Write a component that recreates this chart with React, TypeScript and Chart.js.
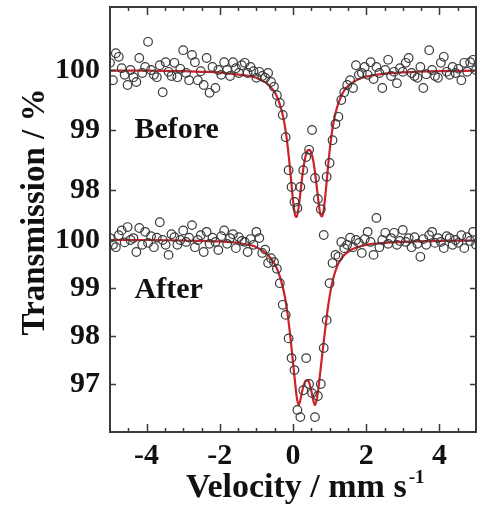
import React, { useEffect, useRef } from 'react';
import { Chart, registerables } from 'chart.js';

Chart.register(...registerables);

// Velocity channels (mm/s)
const velocity = [
  -5.00, -4.92, -4.84, -4.76, -4.68, -4.60, -4.52, -4.44, -4.36, -4.28,
  -4.20, -4.12, -4.04, -3.96, -3.88, -3.80, -3.72, -3.64, -3.56, -3.48,
  -3.40, -3.32, -3.24, -3.16, -3.08, -3.00, -2.92, -2.84, -2.76, -2.68,
  -2.60, -2.52, -2.44, -2.36, -2.28, -2.20, -2.12, -2.04, -1.96, -1.88,
  -1.80, -1.72, -1.64, -1.56, -1.48, -1.40, -1.32, -1.24, -1.16, -1.08,
  -1.00, -0.92, -0.84, -0.76, -0.68, -0.60, -0.52, -0.44, -0.36, -0.28,
  -0.20, -0.12, -0.04, 0.04, 0.12, 0.20, 0.28, 0.36, 0.44, 0.52,
  0.60, 0.68, 0.76, 0.84, 0.92, 1.00, 1.08, 1.16, 1.24, 1.32,
  1.40, 1.48, 1.56, 1.64, 1.72, 1.80, 1.88, 1.96, 2.04, 2.12,
  2.20, 2.28, 2.36, 2.44, 2.52, 2.60, 2.68, 2.76, 2.84, 2.92,
  3.00, 3.08, 3.16, 3.24, 3.32, 3.40, 3.48, 3.56, 3.64, 3.72,
  3.80, 3.88, 3.96, 4.04, 4.12, 4.20, 4.28, 4.36, 4.44, 4.52,
  4.60, 4.68, 4.76, 4.84, 4.92, 5.00,
];

// Transmission (%) - "Before"
const transBefore = [
  100.12, 99.83, 100.28, 100.22, 100.03, 99.92, 99.75, 100.00, 99.88, 99.80,
  100.20, 99.95, 100.05, 100.47, 100.00, 99.92, 99.88, 100.08, 99.63, 100.13,
  99.97, 99.90, 100.12, 99.88, 100.02, 100.33, 99.95, 99.83, 100.25, 100.13,
  99.83, 99.98, 99.75, 100.20, 99.62, 100.05, 99.70, 100.00, 99.92, 100.13,
  100.00, 99.90, 100.13, 100.03, 99.95, 100.08, 100.12, 99.95, 100.05, 99.98,
  99.87, 99.97, 99.90, 99.87, 99.95, 99.80, 99.72, 99.58, 99.45, 99.25,
  98.88, 98.33, 98.05, 97.80, 97.70, 98.05, 98.33, 98.55, 98.67, 99.00,
  98.20, 97.85, 97.68, 97.25, 98.22, 98.45, 98.83, 99.10, 99.22, 99.50,
  99.63, 99.75, 99.83, 99.70, 100.08, 99.92, 99.95, 100.05, 99.92, 100.13,
  99.85, 100.05, 99.95, 99.70, 100.00, 100.17, 99.90, 99.97, 99.78, 100.03,
  99.97, 100.12, 100.20, 99.95, 99.90, 99.87, 100.05, 99.70, 99.93, 100.33,
  100.00, 99.90, 99.87, 100.12, 100.22, 99.97, 99.92, 100.05, 99.95, 100.02,
  99.83, 100.12, 99.97, 100.13, 100.17, 100.00,
];

// Transmission (%) - "After"
const transAfter = [
  100.04, 99.90, 99.85, 100.10, 100.20, 99.95, 100.27, 100.00, 100.04, 99.75,
  100.25, 99.90, 100.17, 99.94, 100.08, 99.85, 100.05, 100.37, 100.00, 99.90,
  99.69, 100.12, 100.06, 99.90, 100.00, 100.20, 99.96, 100.05, 100.31, 99.85,
  100.00, 100.10, 99.75, 100.17, 99.92, 100.05, 99.96, 99.79, 100.08, 100.20,
  99.92, 100.04, 100.12, 99.83, 100.06, 99.98, 99.96, 99.75, 100.02, 99.90,
  100.17, 100.04, 99.73, 99.80, 99.52, 99.62, 99.54, 99.40, 99.10, 98.65,
  98.44, 97.95, 97.54, 97.29, 96.46, 96.31, 96.87, 97.54, 97.00, 96.81,
  96.31, 96.75, 97.00, 97.75, 98.33, 99.10, 99.52, 99.69, 99.65, 99.96,
  99.83, 99.90, 100.05, 99.85, 100.00, 99.94, 99.73, 100.02, 100.17, 99.96,
  99.69, 100.46, 99.85, 100.00, 100.15, 99.92, 100.04, 100.15, 99.90, 99.98,
  100.21, 99.96, 100.04, 99.85, 100.06, 99.92, 99.65, 100.02, 99.90, 100.10,
  100.17, 99.94, 100.04, 99.96, 99.83, 100.08, 100.04, 99.90, 100.00, 99.94,
  100.10, 99.83, 100.06, 99.98, 100.17, 99.90,
];

// Fitted curves
const fitVelocity = [
  -5, -4, -3, -2.5, -2, -1.6, -1.3, -1.1, -1.0, -0.9,
  -0.8, -0.7, -0.6, -0.5, -0.4, -0.3, -0.25, -0.2, -0.15, -0.1,
  -0.05, 0, 0.05, 0.1, 0.15, 0.2, 0.25, 0.3, 0.35, 0.4,
  0.45, 0.5, 0.55, 0.6, 0.65, 0.7, 0.75, 0.8, 0.85, 0.9,
  0.95, 1.0, 1.05, 1.1, 1.2, 1.3, 1.4, 1.5, 1.6, 1.8,
  2.0, 2.5, 3, 4, 5,
];
const fitBefore = [
  99.99, 99.99, 99.98, 99.97, 99.96, 99.93, 99.91, 99.89, 99.87, 99.84,
  99.81, 99.77, 99.71, 99.63, 99.50, 99.30, 99.16, 98.98, 98.75, 98.47,
  98.15, 97.83, 97.60, 97.55, 97.69, 97.94, 98.21, 98.43, 98.58, 98.66,
  98.67, 98.62, 98.50, 98.30, 98.05, 97.79, 97.59, 97.56, 97.72, 98.01,
  98.34, 98.65, 98.90, 99.10, 99.37, 99.54, 99.66, 99.73, 99.78, 99.85,
  99.89, 99.94, 99.96, 99.98, 99.99,
];
const fitAfter = [
  100.00, 100.00, 99.99, 99.98, 99.97, 99.95, 99.91, 99.88, 99.85, 99.81,
  99.76, 99.70, 99.61, 99.50, 99.33, 99.08, 98.92, 98.72, 98.47, 98.17,
  97.82, 97.45, 97.08, 96.74, 96.56, 96.66, 96.85, 96.99, 97.07, 97.08,
  97.01, 96.86, 96.67, 96.56, 96.68, 96.95, 97.28, 97.62, 97.95, 98.27,
  98.57, 98.82, 99.03, 99.20, 99.44, 99.59, 99.69, 99.75, 99.80, 99.86,
  99.90, 99.94, 99.96, 99.98, 99.99,
];

const xTickLabels = [-4, -2, 0, 2, 4];
const yTicksBefore = [98, 99, 100];
const yTicksAfter = [97, 98, 99, 100];
const panelLabels = ['Before', 'After'];
const xTitle = 'Velocity / mm s';
const xTitleSup = '-1';
const yTitle = 'Transmission / %';

const RED = '#cf2129';
const INK = '#111111';
const EDGE = '#3a3a3a';
const FONT = '"Liberation Serif", "Times New Roman", serif';

const decorPlugin = {
  id: 'decor',
  afterLayout(chart: any) {
    // let the inner (zero-width) "Before" axis share the label column of the outer one
    const sB = chart.scales.yB;
    const sA = chart.scales.yA;
    if (sB && sA) {
      sB.left = sA.left;
    }
  },
  afterDatasetsDraw(chart: any) {
    const { ctx, chartArea: a } = chart;
    const sx = chart.scales.x;
    const sB = chart.scales.yB;
    const sA = chart.scales.yA;
    ctx.save();
    // tick marks (inward)
    ctx.strokeStyle = EDGE;
    ctx.lineWidth = 1.5;
    ctx.beginPath();
    for (let k = -9; k <= 9; k++) {
      const px = Math.round(sx.getPixelForValue(k * 0.5)) + 0.5;
      const len = k % 4 === 0 ? 8 : 4;
      ctx.moveTo(px, a.bottom);
      ctx.lineTo(px, a.bottom - len);
      ctx.moveTo(px, a.top);
      ctx.lineTo(px, a.top + len);
    }
    [sB, sA].forEach((s: any) => {
      s.ticks.forEach((t: any) => {
        const py = Math.round(s.getPixelForValue(t.value)) + 0.5;
        ctx.moveTo(a.left, py);
        ctx.lineTo(a.left + 6, py);
        ctx.moveTo(a.right, py);
        ctx.lineTo(a.right - 6, py);
      });
    });
    ctx.stroke();
    // frame
    ctx.lineWidth = 2;
    ctx.strokeRect(a.left, a.top, a.right - a.left, a.bottom - a.top);

    // panel labels
    ctx.fillStyle = INK;
    ctx.font = `bold 30px ${FONT}`;
    ctx.textAlign = 'left';
    ctx.textBaseline = 'alphabetic';
    ctx.fillText(panelLabels[0], sx.getPixelForValue(-4.33), sB.getPixelForValue(98.87));
    ctx.fillText(panelLabels[1], sx.getPixelForValue(-4.33), sA.getPixelForValue(98.79));

    // x title with superscript
    ctx.font = `bold 34px ${FONT}`;
    const w = ctx.measureText(xTitle).width;
    const left = (a.left + a.right) / 2 - 107;
    ctx.fillText(xTitle, left, a.bottom + 65);
    ctx.font = `bold 19px ${FONT}`;
    ctx.fillText(xTitleSup, left + w + 2, a.bottom + 51);

    // y title
    ctx.save();
    ctx.translate(44, (a.top + a.bottom) / 2 - 7.5);
    ctx.rotate(-Math.PI / 2);
    ctx.font = `bold 33px ${FONT}`;
    ctx.textAlign = 'center';
    ctx.fillText(yTitle, 0, 0);
    ctx.restore();

    ctx.restore();
  },
};

const tickFont = { family: FONT, size: 30, weight: 'bold' as const, lineHeight: 1.2 };

const noPad = (s: any) => {
  s.paddingTop = 0;
  s.paddingBottom = 0;
  s.paddingLeft = 0;
  s.paddingRight = 0;
};

export default function App() {
  const ref = useRef<HTMLCanvasElement | null>(null);
  useEffect(() => {
    if (!ref.current) return;
    const chart = new Chart(ref.current, {
      type: 'scatter',
      data: {
        datasets: [
          {
            label: 'Before fit',
            data: fitVelocity.map((v, i) => ({ x: v, y: fitBefore[i] })),
            yAxisID: 'yB',
            showLine: true,
            borderColor: RED,
            borderWidth: 2.2,
            pointRadius: 0,
            cubicInterpolationMode: 'monotone',
            order: 2,
          } as any,
          {
            label: 'After fit',
            data: fitVelocity.map((v, i) => ({ x: v, y: fitAfter[i] })),
            yAxisID: 'yA',
            showLine: true,
            borderColor: RED,
            borderWidth: 2.2,
            pointRadius: 0,
            cubicInterpolationMode: 'monotone',
            order: 2,
          } as any,
          {
            label: 'Before',
            data: velocity.map((v, i) => ({ x: v, y: transBefore[i] })),
            yAxisID: 'yB',
            showLine: false,
            pointRadius: 4.3,
            pointBorderWidth: 1.2,
            pointBorderColor: EDGE,
            pointBackgroundColor: 'rgba(255,255,255,0)',
            order: 0,
          } as any,
          {
            label: 'After',
            data: velocity.map((v, i) => ({ x: v, y: transAfter[i] })),
            yAxisID: 'yA',
            showLine: false,
            pointRadius: 4.3,
            pointBorderWidth: 1.2,
            pointBorderColor: EDGE,
            pointBackgroundColor: 'rgba(255,255,255,0)',
            order: 0,
          } as any,
        ],
      },
      options: {
        animation: false,
        responsive: true,
        maintainAspectRatio: false,
        layout: { padding: { top: 7, right: 11, left: 0, bottom: 0 } },
        plugins: { legend: { display: false }, tooltip: { enabled: false } },
        scales: {
          x: {
            type: 'linear',
            position: 'bottom',
            min: -5,
            max: 5,
            grid: { display: false, drawTicks: false },
            border: { display: false },
            afterBuildTicks: (s: any) => {
              s.ticks = xTickLabels.map((v) => ({ value: v }));
            },
            afterFit: (s: any) => {
              s.height = 73;
              noPad(s);
            },
            ticks: {
              padding: 6,
              font: tickFont,
              color: INK,
              autoSkip: false,
              maxRotation: 0,
              callback: (v: any) => String(v),
            },
          },
          yB: {
            type: 'linear',
            position: 'left',
            weight: 0,
            min: 93.967,
            max: 101.05,
            grid: { display: false, drawTicks: false },
            border: { display: false },
            afterBuildTicks: (s: any) => {
              s.ticks = yTicksBefore.map((v) => ({ value: v }));
            },
            afterFit: (s: any) => {
              s.width = 0;
              noPad(s);
            },
            ticks: {
              padding: 10,
              font: tickFont,
              color: INK,
              autoSkip: false,
              callback: (v: any) => String(v),
            },
          },
          yA: {
            type: 'linear',
            position: 'left',
            weight: 1,
            min: 96.0,
            max: 104.854,
            grid: { display: false, drawTicks: false },
            border: { display: false },
            afterBuildTicks: (s: any) => {
              s.ticks = yTicksAfter.map((v) => ({ value: v }));
            },
            afterFit: (s: any) => {
              s.width = 110;
              noPad(s);
            },
            ticks: {
              padding: 10,
              font: tickFont,
              color: INK,
              autoSkip: false,
              callback: (v: any) => String(v),
            },
          },
        },
      } as any,
      plugins: [decorPlugin],
    });
    return () => chart.destroy();
  }, []);

  return (
    <div
      style={{
        position: 'fixed',
        left: 0,
        top: 0,
        width: 487,
        height: 505,
        background: '#ffffff',
      }}
    >
      <canvas ref={ref} />
    </div>
  );
}
